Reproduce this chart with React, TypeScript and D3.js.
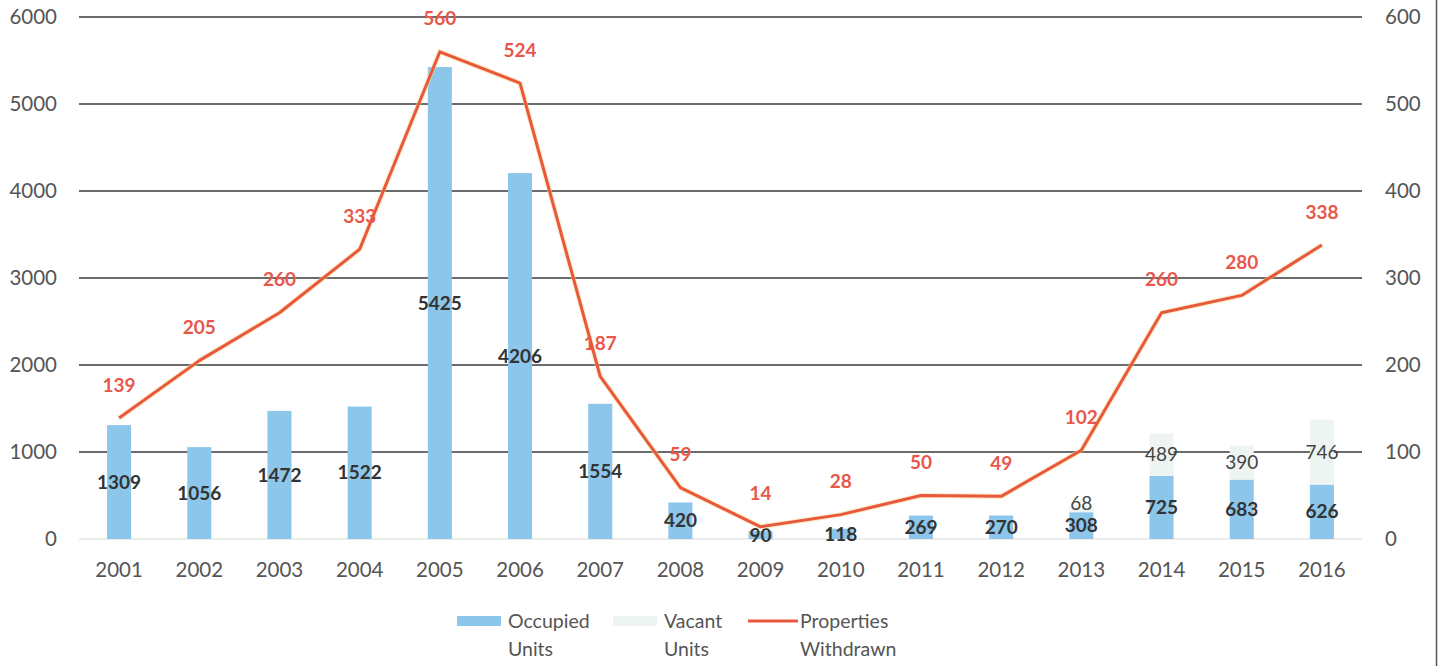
import * as d3 from "d3";
import { useEffect, useRef } from "react";

const years = ["2001", "2002", "2003", "2004", "2005", "2006", "2007", "2008", "2009", "2010", "2011", "2012", "2013", "2014", "2015", "2016"];
const occupied = [1309, 1056, 1472, 1522, 5425, 4206, 1554, 420, 90, 118, 269, 270, 308, 725, 683, 626];
const vacant = [0, 0, 0, 0, 0, 0, 0, 0, 0, 0, 0, 0, 68, 489, 390, 746];
const withdrawn = [139, 205, 260, 333, 560, 524, 187, 59, 14, 28, 50, 49, 102, 260, 280, 338];
const leftTicks = [0, 1000, 2000, 3000, 4000, 5000, 6000];
const rightTicks = [0, 100, 200, 300, 400, 500, 600];

const FONT = "Lato, 'Open Sans', sans-serif";

const App = () => {
    const svgRef = useRef<SVGSVGElement | null>(null);

    useEffect(() => {
        if (!svgRef.current) return;
        const width = 1442;
        const height = 666;
        const margin = { top: 17, right: 80, bottom: 127, left: 79 };

        const svg = d3.select(svgRef.current)
            .attr("width", width)
            .attr("height", height)
            .style("background", "#fff");
        svg.selectAll("*").remove();

        const x = d3.scaleBand()
            .domain(years)
            .range([margin.left, width - margin.right])
            .paddingInner(0.7)
            .paddingOuter(0.35);

        const yL = d3.scaleLinear().domain([0, 6000]).range([height - margin.bottom, margin.top]);
        const yR = d3.scaleLinear().domain([0, 600]).range([height - margin.bottom, margin.top]);

        const cx = (d: string) => x(d)! + x.bandwidth() / 2;

        // gridlines
        svg.append("g")
            .selectAll("line")
            .data(leftTicks)
            .join("line")
            .attr("x1", margin.left)
            .attr("x2", width - margin.right)
            .attr("y1", d => yL(d))
            .attr("y2", d => yL(d))
            .attr("stroke", d => (d === 0 ? "#e6e6e6" : "#3a3a3a"))
            .attr("stroke-width", 1.5);

        // left axis
        const left = svg.append("g")
            .attr("transform", `translate(${margin.left - 19},0)`)
            .call(d3.axisLeft(yL).tickValues(leftTicks).tickSize(0).tickFormat(d => String(d)));
        left.select(".domain").remove();

        // right axis
        const right = svg.append("g")
            .attr("transform", `translate(${width - margin.right + 20},0)`)
            .call(d3.axisRight(yR).tickValues(rightTicks).tickSize(0).tickFormat(d => String(d)));
        right.select(".domain").remove();

        // bottom axis
        const bottom = svg.append("g")
            .attr("transform", `translate(0,${height - margin.bottom + 20})`)
            .call(d3.axisBottom(x).tickSize(0));
        bottom.select(".domain").remove();

        svg.selectAll(".tick text")
            .attr("font-family", FONT)
            .attr("font-size", 20.5)
            .attr("fill", "#555");

        // bars
        const bars = svg.append("g");
        bars.selectAll("rect.occ")
            .data(years)
            .join("rect")
            .attr("class", "occ")
            .attr("x", d => x(d)!)
            .attr("width", x.bandwidth())
            .attr("y", (d, i) => yL(occupied[i]))
            .attr("height", (d, i) => yL(0) - yL(occupied[i]))
            .attr("fill", "#8cc6ea");

        bars.selectAll("rect.vac")
            .data(years)
            .join("rect")
            .attr("class", "vac")
            .attr("x", d => x(d)!)
            .attr("width", x.bandwidth())
            .attr("y", (d, i) => yL(occupied[i] + vacant[i]))
            .attr("height", (d, i) => yL(occupied[i]) - yL(occupied[i] + vacant[i]))
            .attr("fill", "#edf4f1");

        // bar labels
        svg.append("g")
            .selectAll("text")
            .data(years)
            .join("text")
            .attr("x", d => cx(d))
            .attr("y", (d, i) => yL(occupied[i] / 2))
            .attr("dy", "0.35em")
            .attr("text-anchor", "middle")
            .attr("font-family", FONT)
            .attr("font-weight", 700)
            .attr("font-size", 19)
            .attr("fill", "#333")
            .text((d, i) => occupied[i]);

        svg.append("g")
            .selectAll("text")
            .data(years.filter((d, i) => vacant[i] > 0))
            .join("text")
            .attr("x", d => cx(d))
            .attr("y", d => {
                const i = years.indexOf(d);
                return yL(occupied[i] + Math.max(vacant[i], 200) / 2);
            })
            .attr("dy", "0.35em")
            .attr("text-anchor", "middle")
            .attr("font-family", FONT)
            .attr("font-size", 19)
            .attr("fill", "#444")
            .text(d => vacant[years.indexOf(d)]);

        // line
        const line = d3.line<number>()
            .x((d, i) => cx(years[i]))
            .y(d => yR(d));

        svg.append("path")
            .datum(withdrawn)
            .attr("fill", "none")
            .attr("stroke", "#f5d98a")
            .attr("stroke-width", 5)
            .attr("stroke-opacity", 0.5)
            .attr("d", line);
        svg.append("path")
            .datum(withdrawn)
            .attr("fill", "none")
            .attr("stroke", "#e9573d")
            .attr("stroke-width", 3)
            .attr("stroke-linejoin", "round")
            .attr("d", line);

        svg.append("g")
            .selectAll("text")
            .data(withdrawn)
            .join("text")
            .attr("x", (d, i) => cx(years[i]))
            .attr("y", d => yR(d) - 33)
            .attr("dy", "0.35em")
            .attr("text-anchor", "middle")
            .attr("font-family", FONT)
            .attr("font-weight", 700)
            .attr("font-size", 19)
            .attr("fill", "#e8574a")
            .text(d => d);

        // right border
        svg.append("line")
            .attr("x1", width - 5.5)
            .attr("x2", width - 5.5)
            .attr("y1", 0)
            .attr("y2", height)
            .attr("stroke", "#555")
            .attr("stroke-width", 1.5);

        // legend
        const legend = svg.append("g").attr("font-family", FONT).attr("font-size", 19.5).attr("fill", "#555");
        const items = [
            { name: ["Occupied", "Units"], x: 457, kind: "rect", color: "#8cc6ea" },
            { name: ["Vacant", "Units"], x: 613, kind: "rect", color: "#edf4f1" },
            { name: ["Properties", "Withdrawn"], x: 748, kind: "line", color: "#e9573d" }
        ];
        items.forEach(it => {
            if (it.kind === "rect") {
                legend.append("rect").attr("x", it.x).attr("y", 616).attr("width", 44).attr("height", 10).attr("fill", it.color);
            } else {
                legend.append("line").attr("x1", it.x).attr("x2", it.x + 50).attr("y1", 621).attr("y2", 621)
                    .attr("stroke", it.color).attr("stroke-width", 3);
            }
            const tx = it.x + (it.kind === "rect" ? 51 : 52);
            legend.append("text").attr("x", tx).attr("y", 628).text(it.name[0]);
            legend.append("text").attr("x", tx).attr("y", 656).text(it.name[1]);
        });
    }, []);

    return <svg ref={svgRef} style={{ position: "absolute", left: 0, top: 0, display: "block" }}></svg>;
};

export default App;
